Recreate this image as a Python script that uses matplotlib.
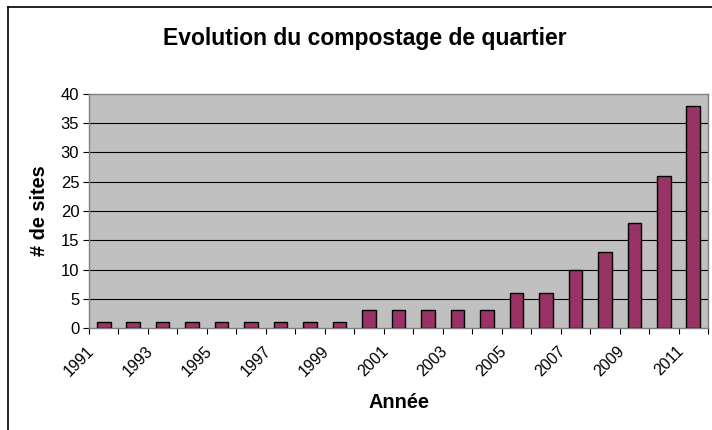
import matplotlib
matplotlib.use("Agg")
import matplotlib.pyplot as plt
from matplotlib.lines import Line2D
import numpy as np

years = [str(y) for y in range(1991, 2012)]
sites = [1, 1, 1, 1, 1, 1, 1, 1, 1, 3, 3, 3, 3, 3, 6, 6, 10, 13, 18, 26, 38]
yticks = [0, 5, 10, 15, 20, 25, 30, 35, 40]

plt.rcParams['font.family'] = ['Liberation Sans', 'DejaVu Sans']

W, H = 712, 430
fig = plt.figure(figsize=(W / 100, H / 100), dpi=100)
fig.patch.set_facecolor('white')

# plot area in pixels: left 89, right 708, top 94, bottom 328
l, r, t, b = 89, 708, 94, 328
ax = fig.add_axes([l / W, 1 - b / H, (r - l) / W, (b - t) / H])
ax.set_facecolor('#C0C0C0')

x = np.arange(len(years))
ax.bar(x, sites, width=0.46, color='#993366', edgecolor='black', linewidth=1.0, zorder=3)

ax.set_xlim(-0.5, len(years) - 0.5)
ax.set_ylim(0, 40)

for v in yticks[1:-1]:
    ax.axhline(v, color='black', linewidth=0.8, zorder=1)

ax.set_yticks(yticks)
ax.set_yticklabels([str(v) for v in yticks], fontsize=12)
ax.tick_params(axis='y', direction='out', length=4, width=0.8, color='black', pad=3)

# category boundary tick marks
ax.set_xticks(np.arange(-0.5, len(years)), minor=True)
ax.tick_params(axis='x', which='minor', direction='out', length=4, width=0.8, color='black')
lab_pos = x[::2] - 0.42
ax.set_xticks(lab_pos)
ax.set_xticklabels(years[::2], fontsize=11.5, rotation=45, ha='right', va='center',
                   rotation_mode='anchor')
ax.tick_params(axis='x', which='major', length=0, pad=15)

for side in ['top', 'right', 'left', 'bottom']:
    ax.spines[side].set_color('#808080')
    ax.spines[side].set_linewidth(1.0)

ax.set_ylabel('# de sites', fontsize=14.3, fontweight='bold')
ax.set_xlabel('Année', fontsize=14.3, fontweight='bold')
ax.xaxis.set_label_coords(0.5, -(402 - b) / (b - t))
ax.xaxis.label.set_va('center')
ax.yaxis.set_label_coords(-(l - 40) / (r - l), 0.5)
ax.yaxis.label.set_va('center')

fig.text(365 / W, 1 - 39 / H, 'Evolution du compostage de quartier', fontsize=16.5,
         fontweight='bold', ha='center', va='center')

# outer chart frame (top and left visible)
fig.add_artist(Line2D([8 / W, 1], [1 - 7 / H, 1 - 7 / H], color='black', linewidth=1.2,
                      transform=fig.transFigure))
fig.add_artist(Line2D([8 / W, 8 / W], [0, 1 - 7 / H], color='black', linewidth=1.2,
                      transform=fig.transFigure))

fig.savefig('out.png', dpi=100)
